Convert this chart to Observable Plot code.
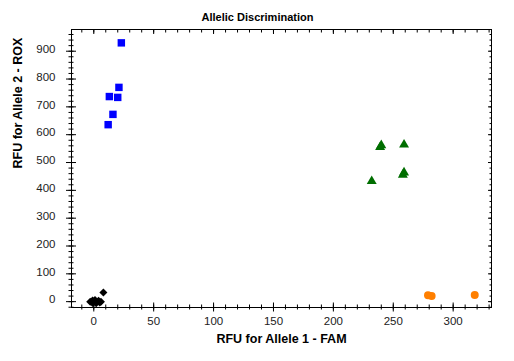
<!DOCTYPE html>
<html><head><meta charset="utf-8">
<script src="https://cdn.jsdelivr.net/npm/d3@7"></script>
<script src="https://cdn.jsdelivr.net/npm/@observablehq/plot@0.6"></script>
<style>body{margin:0;background:#fff;font-family:"Liberation Sans",Arial,sans-serif}</style>
</head><body><div id="chart"></div>
<script>
const title = "Allelic Discrimination";
const xLabel = "RFU for Allele 1 - FAM";
const yLabel = "RFU for Allele 2 - ROX";

const xTicks = [0, 50, 100, 150, 200, 250, 300];
const yTicks = [0, 100, 200, 300, 400, 500, 600, 700, 800, 900];
const xMinor = [-10, 0, 10, 20, 30, 40, 50, 60, 70, 80, 90, 100, 110, 120, 130, 140, 150, 160, 170, 180, 190, 200, 210, 220, 230, 240, 250, 260, 270, 280, 290, 300, 310, 320, 330];
const yMinor = [-20, 0, 20, 40, 60, 80, 100, 120, 140, 160, 180, 200, 220, 240, 260, 280, 300, 320, 340, 360, 380, 400, 420, 440, 460, 480, 500, 520, 540, 560, 580, 600, 620, 640, 660, 680, 700, 720, 740, 760, 780, 800, 820, 840, 860, 880, 900, 920, 940, 960];

// Allele 2 (blue squares)
const allele2X = [23, 21, 13, 20, 16, 12];
const allele2Y = [930, 770, 737, 734, 673, 636];
// Heterozygous (green triangles)
const heteroX = [240, 239, 259, 259, 258, 232];
const heteroY = [562, 555, 564, 464, 456, 433];
// Allele 1 (orange circles)
const allele1X = [279, 282, 318];
const allele1Y = [23, 20, 24];
// No call / NTC (black diamonds)
const ntcX = [-3, -1, -1, 1, 2, 4, 5, 6, 2, 0, 8];
const ntcY = [0, 4, -5, 6, -6, 3, -3, 0, 0, 0, 33];

const toRows = (xs, ys) => xs.map((x, i) => ({x, y: ys[i]}));

const font = "Liberation Sans, Arial, sans-serif";
const tickColor = "#222";

const chart = Plot.plot({
  width: 514,
  height: 361,
  marginLeft: 71,
  marginRight: 23,
  marginTop: 29,
  marginBottom: 54,
  style: {fontFamily: font, background: "#fff", color: "#000"},
  x: {domain: [-18.6, 332]},
  y: {domain: [-21, 978]},
  marks: [
    Plot.frame({stroke: "#000", strokeWidth: 1}),
    // left axis: crossing ticks
    Plot.axisY({anchor: "left", ticks: yTicks, tickSize: 10, insetLeft: 5, text: null, label: null, stroke: "#000"}),
    Plot.axisY({anchor: "left", ticks: yMinor, tickSize: 5, insetLeft: 2.5, text: null, label: null, stroke: "#000"}),
    Plot.axisY({anchor: "left", ticks: yTicks, tickSize: 0, tickPadding: 16, dy: -2, label: null, fontSize: 11.5, fill: tickColor}),
    // right axis: inward ticks
    Plot.axisY({anchor: "right", ticks: yTicks, tickSize: 4, insetRight: 4, text: null, label: null, stroke: "#000"}),
    Plot.axisY({anchor: "right", ticks: yMinor, tickSize: 2.5, insetRight: 2.5, text: null, label: null, stroke: "#000"}),
    // bottom axis: crossing ticks
    Plot.axisX({anchor: "bottom", ticks: xTicks, tickSize: 9, insetBottom: 4.5, text: null, label: null, stroke: "#000"}),
    Plot.axisX({anchor: "bottom", ticks: xMinor, tickSize: 5, insetBottom: 2.5, text: null, label: null, stroke: "#000"}),
    Plot.axisX({anchor: "bottom", ticks: xTicks, tickSize: 0, tickPadding: 9, label: null, fontSize: 11.5, fill: tickColor}),
    // top axis: inward ticks
    Plot.axisX({anchor: "top", ticks: xTicks, tickSize: 4, insetTop: 4, text: null, label: null, stroke: "#000"}),
    Plot.axisX({anchor: "top", ticks: xMinor, tickSize: 2.5, insetTop: 2.5, text: null, label: null, stroke: "#000"}),
    // data
    Plot.dot(toRows(ntcX, ntcY), {x: "x", y: "y", symbol: "diamond2", r: 3.6, fill: "#000", stroke: null}),
    Plot.dot(toRows(allele1X, allele1Y), {x: "x", y: "y", symbol: "circle", r: 4, fill: "#ff7f00", stroke: null}),
    Plot.dot(toRows(heteroX, heteroY), {x: "x", y: "y", symbol: "triangle", r: 3.7, fill: "#006e00", stroke: null}),
    Plot.dot(toRows(allele2X, allele2Y), {x: "x", y: "y", symbol: "square", r: 4.2, fill: "#0000ff", stroke: null}),
    // titles
    Plot.text([title], {frameAnchor: "top", dx: -24, dy: -16, fontWeight: "bold", fontSize: 11, fill: "#000"}),
    Plot.text([xLabel], {frameAnchor: "bottom", dy: 35, fontWeight: "bold", fontSize: 12.5, fill: "#000"}),
    Plot.text([yLabel], {frameAnchor: "left", dx: -54, rotate: -90, fontWeight: "bold", fontSize: 12.5, fill: "#000"})
  ]
});
document.getElementById("chart").appendChild(chart);
</script>
</body></html>
